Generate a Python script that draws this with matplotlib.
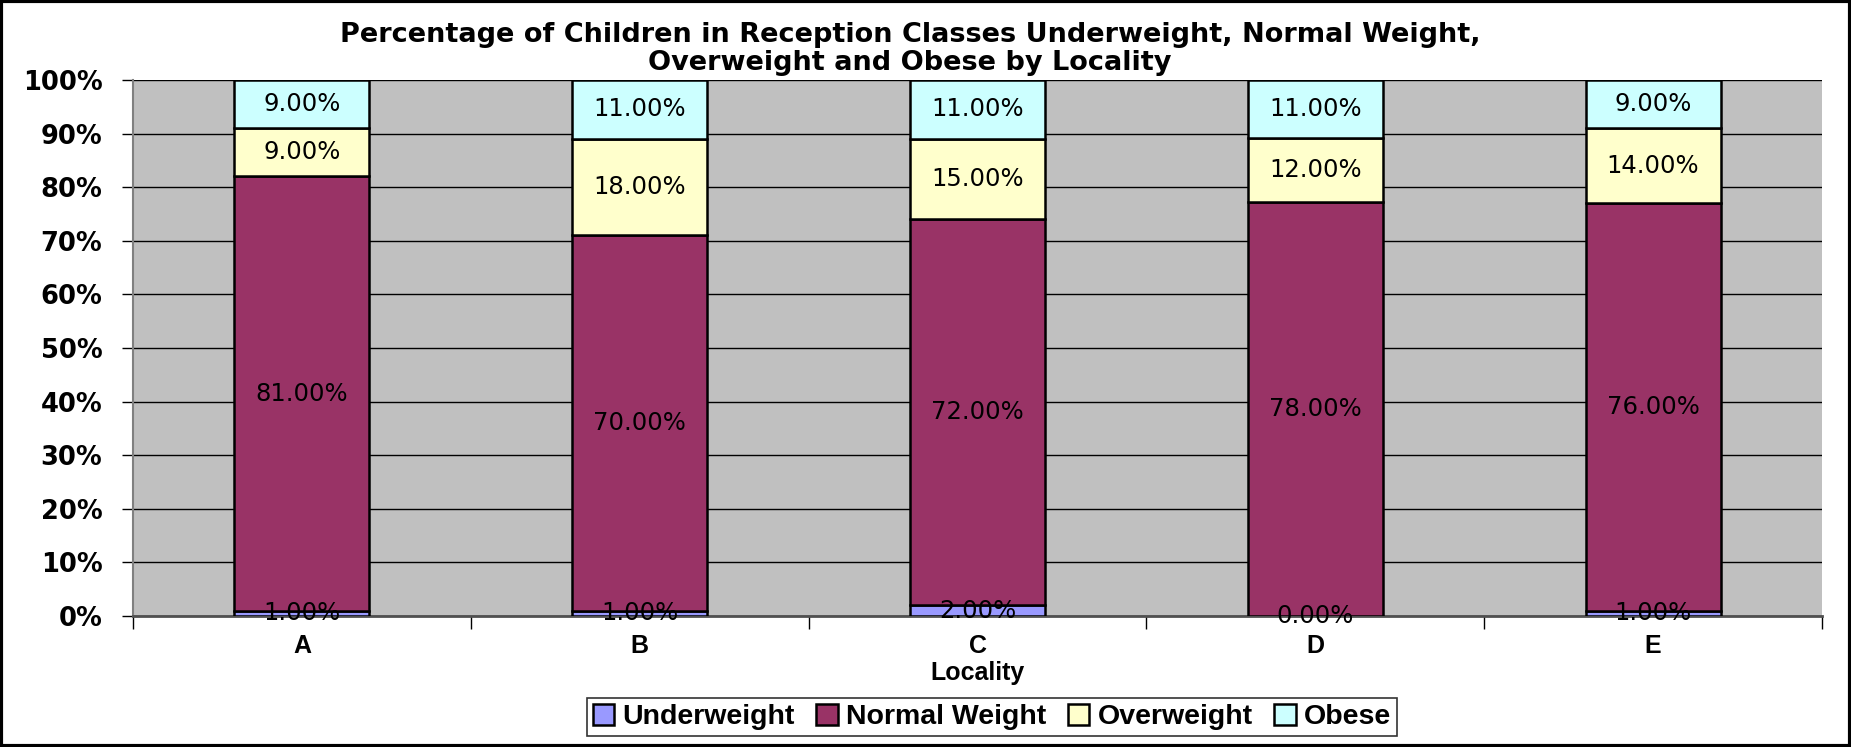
import matplotlib
matplotlib.use("Agg")
import matplotlib.pyplot as plt
from matplotlib.patches import Rectangle
import numpy as np

localities = ["A", "B", "C", "D", "E"]
series_names = ["Underweight", "Normal Weight", "Overweight", "Obese"]
underweight = [1, 1, 2, 0, 1]
normal_weight = [81, 70, 72, 78, 76]
overweight = [9, 18, 15, 12, 14]
obese = [9, 11, 11, 11, 9]
colors = ["#9999FF", "#993366", "#FFFFCC", "#CCFFFF"]
yticks = [0, 10, 20, 30, 40, 50, 60, 70, 80, 90, 100]

raw = np.array([underweight, normal_weight, overweight, obese], dtype=float)
totals = raw.sum(axis=0)
pct = raw / totals * 100.0

fig = plt.figure(figsize=(18.51, 7.47), dpi=100)
fig.patch.set_facecolor("white")
ax = fig.add_axes([133 / 1851, 131 / 747, (1822 - 133) / 1851, (616 - 80) / 747])
ax.set_facecolor("#C0C0C0")

x = np.arange(len(localities))
bottom = np.zeros(len(localities))
handles = []
for i in range(4):
    h = ax.bar(x, pct[i], 0.4, bottom=bottom, color=colors[i], edgecolor="black",
               linewidth=1.8, zorder=3, label=series_names[i])
    handles.append(h)
    for j in range(len(localities)):
        yc = bottom[j] + pct[i][j] / 2
        ax.text(x[j], yc, f"{raw[i][j]:.2f}%", ha="center", va="center",
                fontsize=17.5, family="DejaVu Sans", color="black", zorder=5, clip_on=False)
    bottom += pct[i]

ax.set_xlim(-0.5, len(localities) - 0.5)
ax.set_ylim(0, 100)
ax.set_yticks(yticks)
ax.set_yticklabels([f"{v}%" for v in yticks], fontsize=18.5, fontweight="bold", family="DejaVu Sans")
ax.yaxis.grid(True, color="black", linewidth=1.0, zorder=1)
ax.set_axisbelow(True)
ax.tick_params(axis="y", length=8, width=1, direction="out", pad=14)

ax.set_xticks(np.arange(len(localities) + 1) - 0.5)
ax.set_xticklabels([])
ax.set_xticks(x, minor=True)
ax.set_xticklabels(localities, minor=True, fontsize=18, fontweight="bold", family="Liberation Sans")
ax.tick_params(axis="x", which="major", length=9, width=1, direction="out")
ax.tick_params(axis="x", which="minor", length=0, pad=13)

for side in ["top", "right"]:
    ax.spines[side].set_visible(False)
ax.spines["left"].set_color("#808080")
ax.spines["left"].set_linewidth(1.5)
ax.spines["bottom"].set_color("#505050")
ax.spines["bottom"].set_linewidth(2)

ax.set_xlabel("Locality", fontsize=18, fontweight="bold", family="Liberation Sans")
ax.xaxis.set_label_coords(0.5, (616 - 673) / 536)
ax.xaxis.label.set_va("center")

fig.text(910 / 1851, 1 - 35 / 747, "Percentage of Children in Reception Classes Underweight, Normal Weight,",
         ha="center", va="center", fontsize=19.5, fontweight="bold", family="DejaVu Sans")
fig.text(910 / 1851, 1 - 63 / 747, "Overweight and Obese by Locality",
         ha="center", va="center", fontsize=19.5, fontweight="bold", family="DejaVu Sans")

leg = fig.legend(handles=handles, labels=series_names, loc="center",
                 bbox_to_anchor=(992 / 1851, 1 - 717 / 747), ncol=4, frameon=True,
                 fancybox=False, edgecolor="black", handlelength=0.75, handleheight=0.75,
                 handletextpad=0.3, columnspacing=0.75, borderpad=0.2,
                 prop={"family": "Liberation Sans", "weight": "bold", "size": 20.5})
leg.get_frame().set_linewidth(1.2)

fig.patches.append(Rectangle((0.0005, 0.001), 0.999, 0.997, transform=fig.transFigure,
                             fill=False, edgecolor="black", linewidth=3))

fig.savefig("out.png", dpi=100)
